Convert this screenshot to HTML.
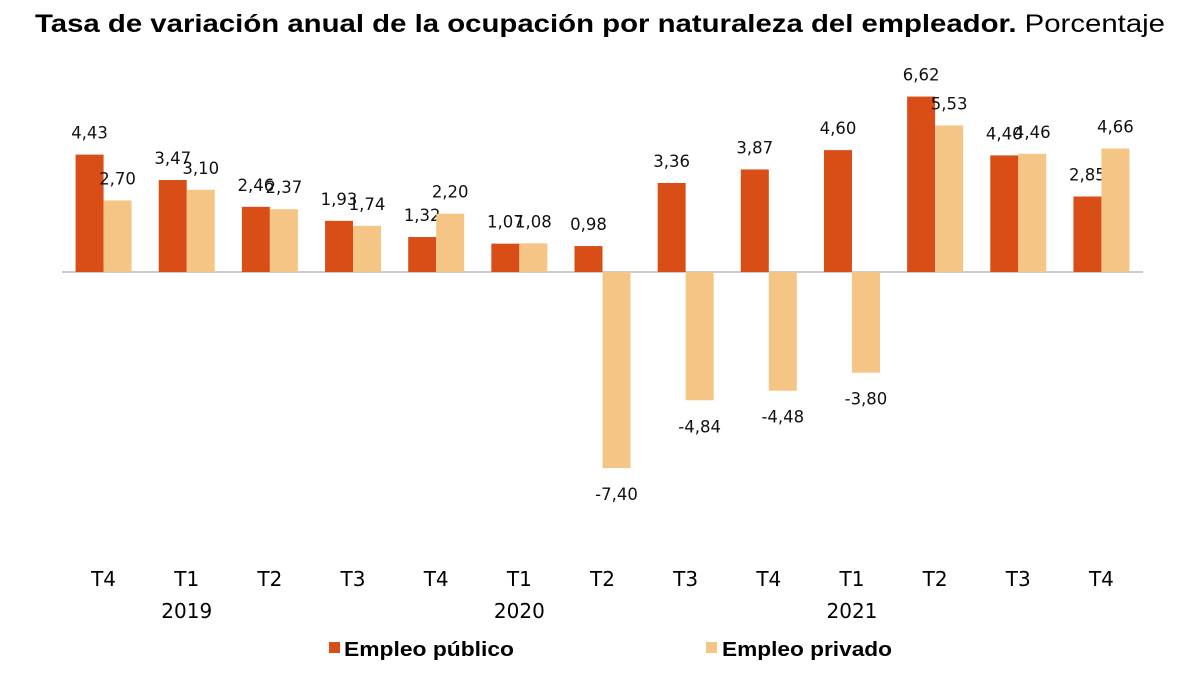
<!DOCTYPE html>
<html><head><meta charset="utf-8"><style>
body{margin:0;background:#fff;width:1201px;height:676px;overflow:hidden;font-family:"Liberation Sans",sans-serif}
</style></head><body>
<svg width="1201" height="676" id="c">
<text x="35" y="32" font-size="25" textLength="1130" lengthAdjust="spacingAndGlyphs"><tspan font-weight="bold">Tasa de variación anual de la ocupación por naturaleza del empleador.</tspan> Porcentaje</text>
<line x1="62" y1="272" x2="1143" y2="272" stroke="#999" stroke-width="1"/>
<rect x="329" y="642" width="11" height="11" fill="#d94e17"/>
<text x="344" y="656" font-size="20" font-weight="bold" textLength="170" lengthAdjust="spacingAndGlyphs">Empleo público</text>
<rect x="706" y="642" width="11" height="11" fill="#f5c585"/>
<text x="722" y="656" font-size="20" font-weight="bold" textLength="170" lengthAdjust="spacingAndGlyphs">Empleo privado</text>
</svg>
<script>
const categories=["T4","T1","T2","T3","T4","T1","T2","T3","T4","T1","T2","T3","T4"];
const publico=[4.43,3.47,2.46,1.93,1.32,1.07,0.98,3.36,3.87,4.60,6.62,4.40,2.85];
const privado=[2.70,3.10,2.37,1.74,2.20,1.08,-7.40,-4.84,-4.48,-3.80,5.53,4.46,4.66];
const years=[{label:"2019",idx:1},{label:"2020",idx:5},{label:"2021",idx:9}];
const svg=document.getElementById('c');const NS="http://www.w3.org/2000/svg";
const x0=62,gw=(1143-62)/categories.length,bw=28,y0=272,k=26.5;
const y=v=>y0-v*k;
const fmt=v=>v.toFixed(2).replace('.',',');
function mk(tag,attrs){const e=document.createElementNS(NS,tag);for(const a in attrs)e.setAttribute(a,attrs[a]);svg.appendChild(e);return e;}
categories.forEach((c,i)=>{
 const cx=x0+gw*(i+0.5);
 [[publico[i],cx-bw,"#d94e17","publico"],[privado[i],cx,"#f5c585","privado"]].forEach(([v,bx,col,s])=>{
  const r=mk('rect',{x:bx,y:Math.min(y(v),y0),width:bw,height:Math.abs(v)*k,fill:col});
  
  
  const ty=v>=0?y(v)-16:y(v)+32;
  const t=mk('text',{x:bx+bw/2,y:ty,'font-size':16.5,'text-anchor':'middle',fill:'#111','font-family':'DejaVu Sans, sans-serif'});
  t.textContent=fmt(v);
  
  
 });
 const t=mk('text',{x:cx,y:586,'font-size':20,'text-anchor':'middle','font-family':'DejaVu Sans, sans-serif'});
 t.textContent=c;
 
 
});
years.forEach(yr=>{
 const t=mk('text',{x:x0+gw*(yr.idx+0.5),y:618,'font-size':20,'text-anchor':'middle','font-family':'DejaVu Sans, sans-serif'});
 t.textContent=yr.label;
 
 
});
</script>
</body></html>
